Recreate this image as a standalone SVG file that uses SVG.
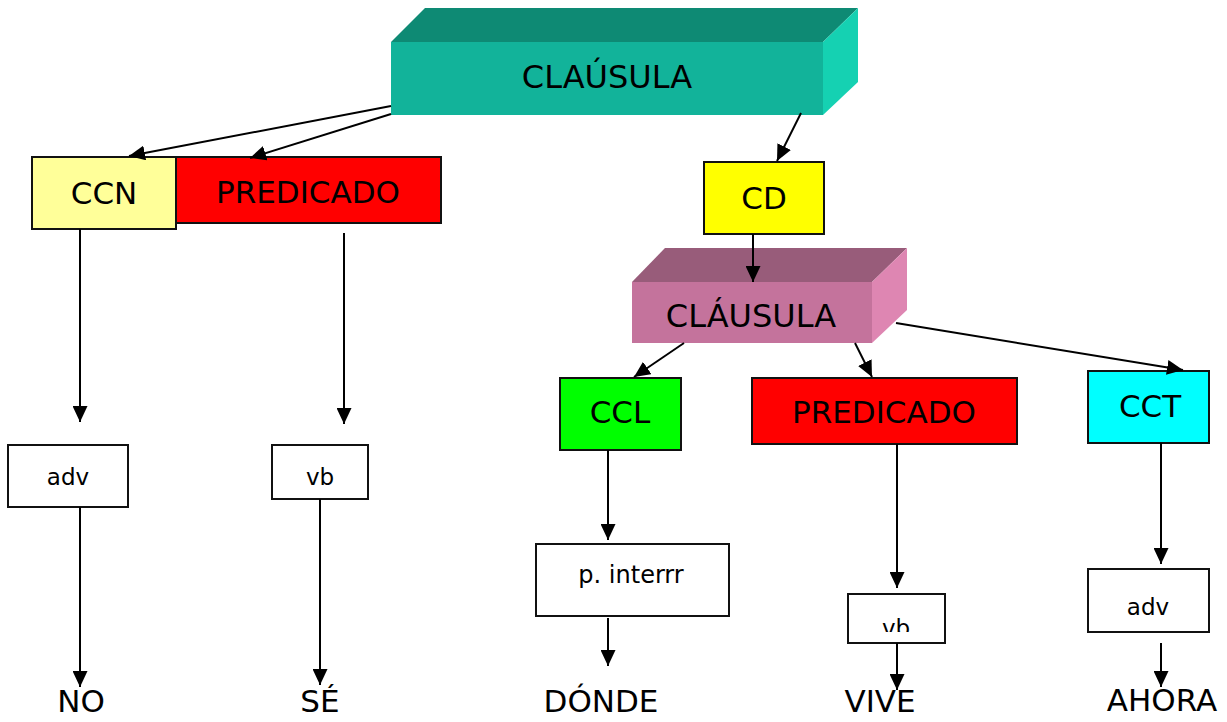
<svg xmlns="http://www.w3.org/2000/svg" width="1227" height="722" viewBox="0 0 1227 722">
<style>
  text { font-family: "DejaVu Sans", "Liberation Sans", sans-serif; fill: #000; text-anchor: middle; }
  .lbl { font-size: 31px; }
  .big { font-size: 32px; }
  .sm { font-size: 23px; }
  .word { font-size: 31px; }
  .box { stroke: #111; stroke-width: 2; }
  .con line { stroke: #000; stroke-width: 2; marker-end: url(#ah); }
</style>
<defs>
  <marker id="ah" viewBox="0 0 16 15" refX="16" refY="7.5" markerWidth="16" markerHeight="15" markerUnits="userSpaceOnUse" orient="auto">
    <path d="M0,0 L16,7.5 L0,15 z" fill="#000"/>
  </marker>
  <clipPath id="vbclip"><rect x="848" y="594" width="97" height="38"/></clipPath>
</defs>
<rect width="1227" height="722" fill="#fff"/>

<g id="clausula-top">
  <polygon points="391,42 425,8 858,8 823,42" fill="#0E8A74"/>
  <polygon points="823,42 858,8 858,82 823,115" fill="#15D1B2"/>
  <rect x="391" y="42" width="432" height="73" fill="#12B39A"/>
  <text class="big" x="607" y="88">CLAÚSULA</text>
</g>

<g id="ccn">
  <rect class="box" x="32" y="157" width="144" height="72" fill="#FFFF99"/>
  <text class="lbl" x="104" y="204">CCN</text>
</g>
<g id="predicado1">
  <rect class="box" x="176" y="157" width="265" height="66" fill="#FF0000"/>
  <text class="lbl" x="308" y="203">PREDICADO</text>
</g>
<g id="cd">
  <rect class="box" x="704" y="162" width="120" height="72" fill="#FFFF00"/>
  <text class="lbl" x="764" y="209">CD</text>
</g>
<g id="clausula-mid">
  <polygon points="632,282 665,248 907,248 872,282" fill="#985C7A"/>
  <polygon points="872,282 907,248 907,310 872,343" fill="#DE86B2"/>
  <rect x="632" y="282" width="240" height="61" fill="#C4739C"/>
  <text class="big" x="751" y="327">CLÁUSULA</text>
</g>
<g id="ccl">
  <rect class="box" x="560" y="378" width="121" height="72" fill="#00FF00"/>
  <text class="lbl" x="620" y="423">CCL</text>
</g>
<g id="predicado2">
  <rect class="box" x="752" y="378" width="265" height="66" fill="#FF0000"/>
  <text class="lbl" x="884" y="423">PREDICADO</text>
</g>
<g id="cct">
  <rect class="box" x="1088" y="371" width="121" height="72" fill="#00FFFF"/>
  <text class="lbl" x="1150" y="417">CCT</text>
</g>
<g id="adv1">
  <rect class="box" x="8" y="445" width="120" height="62" fill="#fff"/>
  <text class="sm" x="68" y="485">adv</text>
</g>
<g id="vb1">
  <rect class="box" x="272" y="445" width="96" height="54" fill="#fff"/>
  <text class="sm" x="320" y="485">vb</text>
</g>
<g id="pinterr">
  <rect class="box" x="536" y="544" width="193" height="72" fill="#fff"/>
  <text class="sm" x="631" y="583" style="font-size:24px">p. interrr</text>
</g>
<g id="vb2">
  <rect class="box" x="848" y="594" width="97" height="49" fill="#fff"/>
  <text class="sm" x="896" y="636" clip-path="url(#vbclip)">vb</text>
</g>
<g id="adv2">
  <rect class="box" x="1088" y="569" width="121" height="63" fill="#fff"/>
  <text class="sm" x="1148" y="615">adv</text>
</g>

<g id="no"><text class="word" x="81" y="712">NO</text></g>
<g id="se"><text class="word" x="320" y="712">SÉ</text></g>
<g id="donde"><text class="word" x="601" y="712">DÓNDE</text></g>
<g id="vive"><text class="word" x="880" y="712">VIVE</text></g>
<g id="ahora"><text class="word" x="1162" y="711">AHORA</text></g>

<g id="connectors" class="con">
  <line x1="391" y1="106" x2="129" y2="156"/>
  <line x1="391" y1="114" x2="250" y2="158"/>
  <line x1="801" y1="113" x2="777" y2="161"/>
  <line x1="80" y1="229" x2="80" y2="422"/>
  <line x1="80" y1="507" x2="80" y2="687"/>
  <line x1="344" y1="233" x2="344" y2="424"/>
  <line x1="320" y1="499" x2="320" y2="685"/>
  <line x1="753" y1="234" x2="753" y2="282"/>
  <line x1="684" y1="343" x2="634" y2="377"/>
  <line x1="855" y1="343" x2="872" y2="377"/>
  <line x1="896" y1="323" x2="1183" y2="370"/>
  <line x1="608" y1="450" x2="608" y2="540"/>
  <line x1="608" y1="618" x2="608" y2="666"/>
  <line x1="897" y1="444" x2="897" y2="588"/>
  <line x1="897" y1="643" x2="897" y2="690"/>
  <line x1="1161" y1="443" x2="1161" y2="564"/>
  <line x1="1161" y1="643" x2="1161" y2="687"/>
</g>
</svg>
